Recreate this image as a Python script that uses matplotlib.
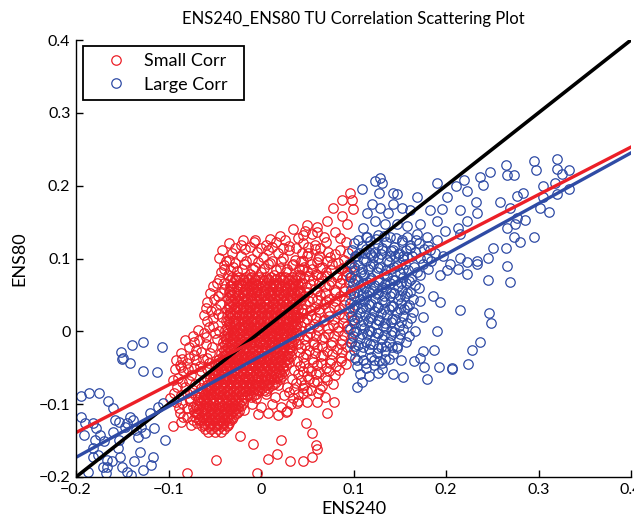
import numpy as np
import matplotlib
matplotlib.use("Agg")
import matplotlib.pyplot as plt

# all point values in thousandths of a unit

# dense red core: (y, [x, ...]) rows
RED_CORE_ROWS = [
    (74, [-31, -24, -16, -11, -2, 5, 11, 20, 26, 33, 41]),
    (72, [-28, -20, -14, -6, 1, 8, 16, 23, 29, 37]),
    (70, [-33, -27, -18, -13, -6, 3, 9, 15, 24, 30, 38]),
    (66, [-30, -22, -17, -8, -1, 6, 14, 19, 28, 35, 42]),
    (64, [-32, -24, -15, -10, -3, 4, 13, 19, 26, 34, 40]),
    (62, [-34, -26, -21, -12, -5, 1, 10, 16, 22, 31, 37]),
    (58, [-32, -25, -17, -9, -4, 5, 12, 18, 27, 33, 40]),
    (56, [-33, -26, -17, -11, -4, 3, 10, 17, 25, 32, 39]),
    (54, [-35, -29, -20, -14, -7, 0, 8, 13, 21, 29, 36, 42]),
    (50, [-31, -24, -18, -10, -2, 4, 11, 19, 25, 32, 39]),
    (48, [-34, -25, -18, -12, -5, 2, 10, 17, 24, 31, 38]),
    (46, [-36, -28, -21, -15, -8, -1, 7, 14, 20, 28, 34, 41]),
    (42, [-33, -26, -19, -11, -5, 3, 9, 17, 24, 30, 38]),
    (40, [-31, -24, -16, -10, -3, 4, 13, 18, 25, 33, 38]),
    (38, [-35, -30, -22, -14, -9, -1, 6, 12, 20, 27, 35, 40]),
    (34, [-34, -27, -19, -13, -5, 2, 8, 16, 23, 29, 36]),
    (32, [-35, -26, -20, -12, -6, 2, 9, 16, 22, 30, 37]),
    (30, [-37, -29, -23, -16, -9, -2, 5, 13, 19, 26, 33, 40]),
    (26, [-33, -26, -20, -12, -6, 1, 9, 15, 22, 30, 37]),
    (24, [-34, -28, -21, -14, -7, 0, 7, 14, 21, 28, 35]),
    (22, [-36, -31, -24, -17, -10, -3, 4, 11, 17, 25, 32, 38]),
    (18, [-34, -27, -20, -14, -7, 0, 7, 14, 21, 28, 34, 40]),
    (16, [-36, -29, -22, -15, -9, -1, 6, 13, 20, 27, 35]),
    (14, [-38, -30, -25, -18, -11, -4, 3, 10, 16, 24, 30, 37]),
    (10, [-35, -28, -21, -15, -8, -1, 6, 13, 19, 26, 34, 39]),
    (8, [-34, -28, -20, -14, -8, -1, 5, 11, 18, 26, 32, 38]),
    (6, [-37, -32, -24, -18, -12, -5, 2, 8, 15, 23, 29, 36]),
    (2, [-39, -31, -26, -19, -11, -6, 1, 9, 17, 22, 30, 38]),
    (0, [-37, -29, -21, -13, -7, 1, 7, 15, 21, 28, 34]),
    (-2, [-36, -29, -23, -15, -9, -2, 4, 12, 18, 25, 32, 36]),
    (-6, [-40, -33, -27, -20, -13, -7, 0, 7, 14, 20, 28, 34]),
    (-8, [-36, -29, -22, -16, -9, -2, 5, 12, 18, 25, 32]),
    (-10, [-38, -31, -24, -17, -10, -4, 3, 10, 16, 24, 30, 36]),
    (-14, [-41, -34, -28, -21, -15, -8, -1, 5, 12, 19, 26, 33]),
    (-16, [-37, -30, -23, -16, -9, -2, 4, 11, 18, 24, 31]),
    (-18, [-39, -32, -25, -18, -12, -5, 2, 9, 15, 22, 29, 34]),
    (-22, [-42, -36, -29, -23, -16, -9, -3, 4, 11, 17, 25, 31]),
    (-24, [-38, -31, -24, -17, -10, -4, 4, 10, 16, 23, 30]),
    (-26, [-40, -33, -26, -20, -13, -6, 1, 7, 14, 21, 28, 33]),
    (-30, [-43, -37, -30, -24, -17, -10, -3, 3, 10, 17, 23, 30]),
    (-32, [-39, -32, -25, -18, -12, -5, 1, 8, 15, 21, 28]),
    (-34, [-41, -34, -27, -21, -14, -7, 0, 6, 13, 19, 26, 32]),
    (-38, [-45, -38, -31, -25, -18, -11, -4, 2, 9, 16, 22, 29]),
    (-40, [-41, -34, -27, -20, -13, -6, 0, 7, 14, 20, 27]),
    (-42, [-43, -36, -29, -22, -16, -9, -2, 5, 12, 18, 25, 30]),
    (-46, [-47, -40, -33, -27, -20, -13, -6, 1, 8, 14, 21, 27]),
    (-48, [-43, -36, -29, -23, -16, -9, -2, 5, 12, 18, 24]),
    (-50, [-45, -38, -32, -25, -18, -11, -4, 3, 10, 17, 24]),
    (-54, [-49, -42, -36, -29, -22, -15, -9, -1, 5, 12, 19, 25]),
    (-56, [-47, -40, -33, -26, -19, -12, -5, 1, 7, 14, 20]),
    (-58, [-52, -46, -39, -32, -26, -19, -12, -5, 2, 9, 16, 22]),
    (-62, [-50, -44, -37, -30, -23, -16, -9, -3, 4, 11, 18, 23]),
    (-64, [-52, -45, -38, -31, -24, -17, -10, -3, 4, 11, 17]),
    (-66, [-55, -48, -41, -35, -28, -21, -14, -7, 0, 7, 14, 20]),
    (-70, [-53, -46, -39, -32, -25, -18, -11, -5, 3, 9, 16]),
    (-72, [-55, -48, -41, -34, -27, -20, -13, -6, 1, 8, 14]),
    (-74, [-58, -51, -44, -37, -30, -23, -16, -10, -3, 5, 12, 18]),
    (-78, [-60, -55, -48, -41, -34, -27, -20, -13, -6, 1, 8]),
    (-80, [-58, -51, -44, -37, -30, -24, -17, -11, -4, 3]),
    (-82, [-63, -57, -50, -43, -36, -29, -23, -16, -9, -2, 5]),
    (-86, [-61, -54, -47, -40, -33, -26, -19, -12, -5]),
    (-88, [-62, -55, -49, -42, -35, -28, -22, -15, -8]),
    (-90, [-66, -59, -52, -45, -38, -31, -25, -18, -11]),
    (-94, [-68, -62, -55, -49, -42, -35, -28, -21]),
    (-96, [-66, -59, -52, -45, -38, -32, -26]),
    (-98, [-65, -58, -51, -44, -37, -30, -24, -19]),
    (-102, [-70, -63, -56, -49, -42, -35, -29, -22]),
    (-104, [-67, -60, -52, -45, -38, -31, -25]),
    (-106, [-68, -61, -54, -47, -40, -33, -27]),
    (-110, [-72, -65, -58, -51, -44, -37, -30, -24]),
    (-112, [-68, -61, -53, -46, -39, -32, -26]),
    (-114, [-69, -62, -55, -48, -41, -34, -28]),
    (-118, [-71, -64, -57, -50, -43, -36, -30]),
    (-120, [-66, -58, -51, -44, -37, -31]),
    (-122, [-67, -60, -53, -46, -39, -33]),
    (-126, [-69, -62, -55, -48, -41, -35]),
    (-128, [-62, -55, -48, -41, -36]),
    (-130, [-64, -57, -50, -43, -37]),
    (-134, [-61, -54, -47, -40]),
    (-138, [-57, -50, -43]),
]

# looser red rings around the core (x, y)
RED_RING = [
    (35, 141), (48, 138), (60, 143), (50, 146), (60, 136), (45, 132),
    (20, 131), (40, 128), (55, 133), (68, 129),
    (-20, 125), (-6, 126), (10, 127), (26, 125),
    (-35, 121), (-22, 118), (-8, 122), (5, 119), (16, 123), (30, 117), (45, 121), (58, 118),
    (70, 122),
    (-28, 114), (-12, 116), (0, 114), (12, 116), (24, 114), (38, 115), (51, 116), (64, 115),
    (-42, 111), (-31, 108), (-17, 113), (-4, 109), (8, 112), (18, 107), (30, 111), (44, 108),
    (58, 113), (72, 109), (85, 112),
    (51, 107), (63, 104), (80, 106), (94, 108),
    (-45, 101), (-35, 98), (-22, 103), (-10, 99), (2, 102), (12, 97), (24, 101), (37, 98),
    (50, 103), (62, 99), (75, 102), (90, 98),
    (-38, 96), (-28, 94), (-16, 97), (-3, 95), (10, 94), (22, 96), (35, 93), (45, 96),
    (43, 96), (60, 95), (71, 97), (83, 94), (95, 93),
    (-40, 91), (-30, 88), (-18, 93), (-6, 89), (8, 92), (20, 87), (33, 91), (46, 88), (54, 93),
    (66, 89), (77, 92), (89, 87),
    (-40, 86), (-33, 84), (-21, 86), (-9, 85), (3, 87), (16, 84), (28, 86), (41, 85),
    (44, 86), (55, 85), (64, 87), (76, 84), (86, 86), (97, 88),
    (-43, 81), (-36, 78), (-26, 83), (-12, 79), (0, 82), (14, 77), (27, 81), (39, 78),
    (50, 83), (59, 79), (70, 82), (82, 78), (93, 81),
    (42, 77), (52, 76), (61, 78), (71, 76), (82, 75), (92, 77),
    (47, 73), (56, 70), (65, 74), (76, 69), (88, 72), (97, 75),
    (44, 66), (53, 65), (63, 67), (74, 64), (85, 66), (95, 68),
    (49, 61), (58, 58), (69, 62), (80, 57), (91, 60),
    (42, 55), (51, 54), (60, 55), (69, 53), (80, 54), (90, 55),
    (46, 49), (55, 46), (64, 50), (74, 45), (85, 48), (96, 51),
    (43, 43), (52, 42), (61, 43), (70, 41), (80, 42), (91, 43),
    (48, 37), (58, 34), (68, 38), (79, 33), (90, 36),
    (44, 31), (53, 29), (63, 30), (73, 28), (84, 30), (95, 32),
    (45, 25), (54, 22), (63, 26), (73, 21), (84, 24), (95, 27),
    (42, 19), (50, 17), (59, 18), (68, 16), (79, 17), (90, 19),
    (47, 13), (57, 10), (67, 14), (78, 9), (89, 12), (98, 15),
    (43, 7), (52, 5), (62, 7), (72, 5), (83, 6), (93, 8),
    (44, 1), (53, -2), (62, 2), (72, -3), (83, 0), (94, 3),
    (41, -5), (50, -7), (59, -6), (68, -8), (79, -7), (90, -5),
    (46, -11), (56, -14), (66, -10), (77, -15), (88, -12), (97, -9),
    (40, -17), (48, -19), (57, -18), (66, -20), (76, -19), (87, -17), (97, -15),
    (43, -23), (52, -26), (61, -22), (71, -27), (82, -24), (93, -21),
    (41, -29), (49, -31), (58, -30), (67, -32), (77, -31), (88, -29),
    (45, -35), (55, -38), (65, -34), (76, -39), (87, -36), (96, -33),
    (39, -41), (47, -43), (56, -42), (65, -44), (75, -43), (86, -41),
    (42, -47), (51, -50), (60, -46), (70, -51), (81, -48), (92, -45),
    (36, -53), (45, -55), (54, -54), (63, -56), (73, -55), (84, -53),
    (40, -59), (50, -62), (59, -58), (69, -63), (80, -60),
    (34, -65), (43, -67), (52, -66), (61, -68), (71, -67),
    (38, -71), (47, -74), (57, -70), (66, -75), (78, -72),
    (28, -77), (36, -79), (45, -78), (54, -80), (64, -79),
    (30, -83), (40, -86), (50, -82), (62, -85),
    # left band along the fit line
    (-92, -40), (-85, -38), (-78, -36), (-70, -40), (-63, -38), (-56, -44), (-49, -46),
    (-93, -52), (-86, -49), (-79, -52), (-72, -50), (-65, -55), (-58, -52), (-52, -64),
    (-91, -76), (-85, -70), (-78, -68), (-71, -72), (-65, -78), (-58, -66), (-52, -72),
    (-94, -85), (-87, -88), (-80, -85), (-74, -80), (-67, -84),
    (-92, -97), (-85, -99), (-78, -91), (-73, -104), (-88, -112), (-80, -118), (-76, -128),
    (-86, -124),
    (-60, -18), (-67, -12), (-74, -6), (-55, -30), (-70, -26), (-62, -2), (-52, 8), (-58, 14),
    (-50, -2), (-54, 28), (-46, 24), (-60, 32), (-51, 45), (-43, 52), (-55, 52), (-48, 66),
    (-40, 66),
]

# single red circles (x, y)
RED_POINTS = [
    (-86, -30), (-72, -33), (-80, -44), (-90, -64), (-82, -77), (-71, -88), (-89, -105),
    (-95, -130), (-53, -22), (-58, -36), (-95, -67), (-84, -55), (-76, -60), (-66, -48),
    (-62, -70), (-50, -58), (-55, -80), (-63, -92), (-77, -96), (-48, -10), (-60, -8),
    (-72, -15), (-82, -12), (-68, 2), (-56, 6), (-45, 0), (-78, -22), (-65, -28), (-47, -40),
    (-52, 18), (-62, 22), (-49, 30), (-58, 40), (-47, 48), (-52, 62), (-45, 72), (-40, 58),
    (-42, 20), (-44, 38), (-88, -46), (-98, -92), (-84, -118), (-70, -112), (-80, -105),
    (-15, -88), (-5, -92), (5, -86), (15, -90), (25, -88), (35, -92), (-10, -100), (0, -104),
    (12, -100), (22, -104), (32, -100), (-3, -113), (8, -112), (18, -115), (28, -110),
    (40, -95), (45, -85), (-18, -108),
    (-49, -177), (-80, -195), (-4, -195), (-9, -155), (-23, -144), (8, -175), (17, -168),
    (22, -149), (31, -178), (45, -178), (55, -172), (61, -162), (59, -156), (55, -140),
    (49, -126), (-74, -122), (71, -112), (79, -97), (27, -111), (39, -99), (50, -97),
    (61, -97), (69, -90),
    (78, 170), (88, 181), (98, 181), (99, 168), (71, 152), (88, 159), (93, 148), (80, 136),
    (96, 190), (85, 128), (92, 122),
]

# dense blue cloud right of x=0.1 (x, y)
BLUE_DENSE = [
    (105, 125), (114, 130), (124, 127), (133, 131), (146, 128), (158, 130), (168, 126),
    (101, 121), (109, 117), (118, 124), (126, 119), (135, 122), (144, 116), (152, 123),
    (161, 118), (171, 121), (180, 117),
    (98, 111), (106, 108), (114, 113), (123, 109), (131, 114), (140, 110), (149, 107),
    (157, 112), (166, 109), (176, 113), (188, 108),
    (103, 104), (112, 108), (121, 102), (130, 106), (139, 103), (148, 106), (158, 102),
    (102, 104), (110, 100), (119, 105), (127, 101), (136, 98), (145, 103), (154, 99),
    (163, 104), (172, 101), (184, 97),
    (97, 94), (105, 91), (113, 96), (121, 92), (129, 89), (138, 95), (147, 90), (156, 93),
    (165, 88), (175, 92),
    (101, 89), (109, 86), (118, 90), (127, 87), (135, 84), (144, 88), (153, 85),
    (100, 84), (108, 81), (116, 86), (125, 82), (133, 79), (141, 85), (150, 80), (159, 84),
    (169, 81), (180, 86),
    (96, 75), (104, 72), (111, 77), (119, 73), (128, 70), (136, 76), (145, 71), (153, 75),
    (162, 72), (172, 77),
    (102, 70), (110, 67), (118, 71), (126, 68), (134, 65), (143, 70), (151, 66), (160, 69),
    (99, 66), (107, 63), (115, 68), (122, 64), (131, 61), (139, 66), (148, 62), (157, 67),
    (167, 63),
    (97, 57), (104, 54), (112, 59), (120, 55), (127, 52), (135, 58), (144, 53), (152, 57),
    (161, 54), (171, 59),
    (101, 52), (109, 50), (117, 54), (125, 51), (133, 48), (141, 53), (150, 49), (158, 52),
    (100, 48), (107, 45), (115, 50), (123, 46), (131, 43), (139, 49), (148, 44), (156, 48),
    (164, 45),
    (96, 39), (103, 36), (111, 41), (119, 37), (127, 34), (134, 40), (143, 35), (151, 39),
    (160, 36), (172, 41),
    (100, 34), (109, 32), (117, 36), (125, 33), (133, 30), (141, 35), (150, 31), (158, 34),
    (99, 30), (107, 27), (114, 32), (122, 28), (130, 25), (138, 31), (147, 26), (155, 30),
    (164, 27),
    (97, 21), (104, 18), (112, 23), (120, 19), (128, 16), (136, 22), (145, 17), (153, 21),
    (162, 18), (175, 20),
    (101, 16), (110, 14), (118, 18), (126, 15), (134, 12), (142, 17), (151, 13),
    (100, 12), (108, 9), (116, 14), (124, 10), (132, 7), (140, 13), (149, 8), (158, 11),
    (96, 3), (103, 0), (111, 5), (119, 1), (127, -2), (135, 4), (144, -1), (153, 3), (166, 0),
    (100, -1), (109, -3), (117, 1), (125, -2), (133, -5), (142, 0), (150, -4),
    (99, -6), (107, -9), (115, -4), (123, -8), (131, -11), (140, -5), (149, -10), (160, -7),
    (97, -16), (105, -19), (113, -14), (121, -18), (130, -21), (138, -15), (147, -20),
    (102, -20), (110, -22), (118, -18), (126, -23), (135, -20),
    (100, -26), (108, -29), (117, -24), (125, -30), (134, -27), (143, -31),
    (102, -37), (110, -40), (119, -35), (128, -41), (138, -38),
    (104, -40), (113, -43), (122, -39), (131, -44),
    (104, -48), (113, -51), (122, -46), (131, -52),
    (107, -59), (117, -62), (126, -57),
]

# single blue circles (x, y)
BLUE_POINTS = [
    (109, 196), (123, 207), (129, 210), (131, 203), (128, 190), (143, 190), (147, 189),
    (169, 184), (190, 203), (201, 184), (211, 199), (219, 208), (223, 193), (237, 212),
    (240, 201), (248, 219), (265, 229), (266, 215), (273, 215), (295, 234), (297, 222),
    (320, 236), (320, 223), (325, 216), (333, 222), (305, 199), (318, 203), (333, 195),
    (320, 189), (305, 184), (277, 186), (283, 190), (258, 177), (269, 170), (302, 170),
    (311, 164), (285, 153), (277, 156), (266, 142), (275, 147), (295, 129), (280, 123),
    (273, 130), (265, 114), (251, 115), (245, 101), (234, 97), (234, 163), (232, 177),
    (215, 167), (223, 152), (213, 142), (215, 134), (196, 168), (183, 166), (190, 152),
    (199, 138), (190, 125), (179, 129), (169, 134), (172, 148), (161, 166), (152, 170),
    (143, 175), (137, 163), (129, 170), (120, 175), (115, 162), (123, 152), (134, 148),
    (147, 148), (158, 145), (110, 142), (115, 129), (126, 132), (139, 129), (152, 125),
    (161, 114), (154, 104), (143, 111), (131, 111), (118, 107), (183, 111), (179, 101),
    (197, 104), (215, 101), (223, 95), (204, 93),
    (266, 90), (245, 71), (269, 68), (223, 79), (213, 86), (234, 92), (215, 29), (246, 25),
    (249, 11), (190, 0), (237, -14), (228, -25), (224, -45), (206, -52), (207, -51),
    (192, -49), (179, -66), (176, -49), (187, -25), (175, -27), (172, -36), (165, -41),
    (154, -63), (143, -58), (151, -40), (134, -38), (157, -15), (193, 40), (186, 49),
    (193, 77), (201, 84), (109, -70), (104, -77), (147, -23), (142, -22),
    # left tail
    (-151, -29), (-149, -36), (-139, -19), (-128, -15), (-107, -22), (-142, -44), (-128, -55),
    (-112, -56), (-150, -38), (-195, -89), (-186, -85), (-175, -85), (-165, -96), (-160, -105),
    (-195, -118), (-190, -126), (-182, -126), (-178, -133), (-191, -142), (-179, -149),
    (-174, -142), (-182, -160), (-182, -172), (-187, -193), (-171, -186), (-168, -195),
    (-158, -122), (-153, -124), (-147, -131), (-142, -118), (-135, -136), (-133, -145),
    (-131, -166), (-153, -149), (-155, -160), (-152, -173), (-150, -186), (-145, -193),
    (-141, -197), (-128, -190), (-119, -184), (-117, -172), (-130, -131), (-120, -112),
    (-116, -133), (-111, -104), (-106, -99), (-104, -149), (-166, -186), (-166, -177),
    (-138, -122), (-145, -126), (-160, -138), (-170, -150), (-176, -170), (-161, -178),
    (-137, -178), (-125, -140),
]

# fitted lines, read at the plot edges
FIT_X = [-0.2, 0.4]
RED_FIT = [-0.139, 0.253]
BLUE_FIT = [-0.173, 0.245]

TICKS = [-0.2, -0.1, 0, 0.1, 0.2, 0.3, 0.4]
TICK_LABELS = ["\u22120.2", "\u22120.1", "0", "0.1", "0.2", "0.3", "0.4"]

RED = "#ec1f27"
BLUE = "#2f4ba5"


def to_xy(rows=(), points=()):
    xs, ys = [], []
    for y, row in rows:
        xs.extend(row)
        ys.extend([y] * len(row))
    for x, y in points:
        xs.append(x)
        ys.append(y)
    return np.array(xs) / 1000.0, np.array(ys) / 1000.0


red_x, red_y = to_xy(RED_CORE_ROWS, RED_RING + RED_POINTS)
blue_x, blue_y = to_xy((), BLUE_DENSE + BLUE_POINTS)

plt.rcParams["font.family"] = ["Lato", "DejaVu Sans"]

fig = plt.figure(figsize=(6.34, 5.21), dpi=100)
ax = fig.add_axes([76 / 634, 1 - 477 / 521, 555 / 634, 437 / 521])

mk = dict(ls="none", marker="o", mfc="none", ms=6.8, mew=0.9)
ax.plot(red_x, red_y, mec=RED, label="Small Corr", **mk)
ax.plot(blue_x, blue_y, mec=BLUE, label="Large Corr", **mk)

ax.plot(FIT_X, FIT_X, color="black", lw=2.6)
ax.plot(FIT_X, RED_FIT, color=RED, lw=2.4)
ax.plot(FIT_X, BLUE_FIT, color=BLUE, lw=2.4)

ax.set_xlim(-0.2, 0.4)
ax.set_ylim(-0.2, 0.4)
ax.set_xticks(TICKS)
ax.set_yticks(TICKS)
ax.set_xticklabels(TICK_LABELS)
ax.set_yticklabels(TICK_LABELS)
ax.spines["top"].set_visible(False)
ax.spines["right"].set_visible(False)
for s in ("left", "bottom"):
    ax.spines[s].set_linewidth(1.0)
ax.tick_params(direction="in", length=5, width=1.0, labelsize=11.5, pad=4)

ax.set_xlabel("ENS240", fontsize=13, labelpad=3)
ax.set_ylabel("ENS80", fontsize=13, labelpad=8)
fig.text(353 / 634, 1 - 19 / 521, "ENS240_ENS80 TU Correlation Scattering Plot",
         ha="center", va="center", fontsize=12)

leg = ax.legend(loc="upper left",
                bbox_to_anchor=((83 - 76) / 555, 0.5, 161 / 555, (477 - 46) / 437 - 0.5),
                mode="expand", borderaxespad=0, fancybox=False, framealpha=1,
                edgecolor="black", fontsize=13, handletextpad=0.1, borderpad=0.4,
                labelspacing=0.42, handlelength=2.9, numpoints=1)
leg.get_frame().set_linewidth(1.3)

fig.savefig("out.png", dpi=100)
